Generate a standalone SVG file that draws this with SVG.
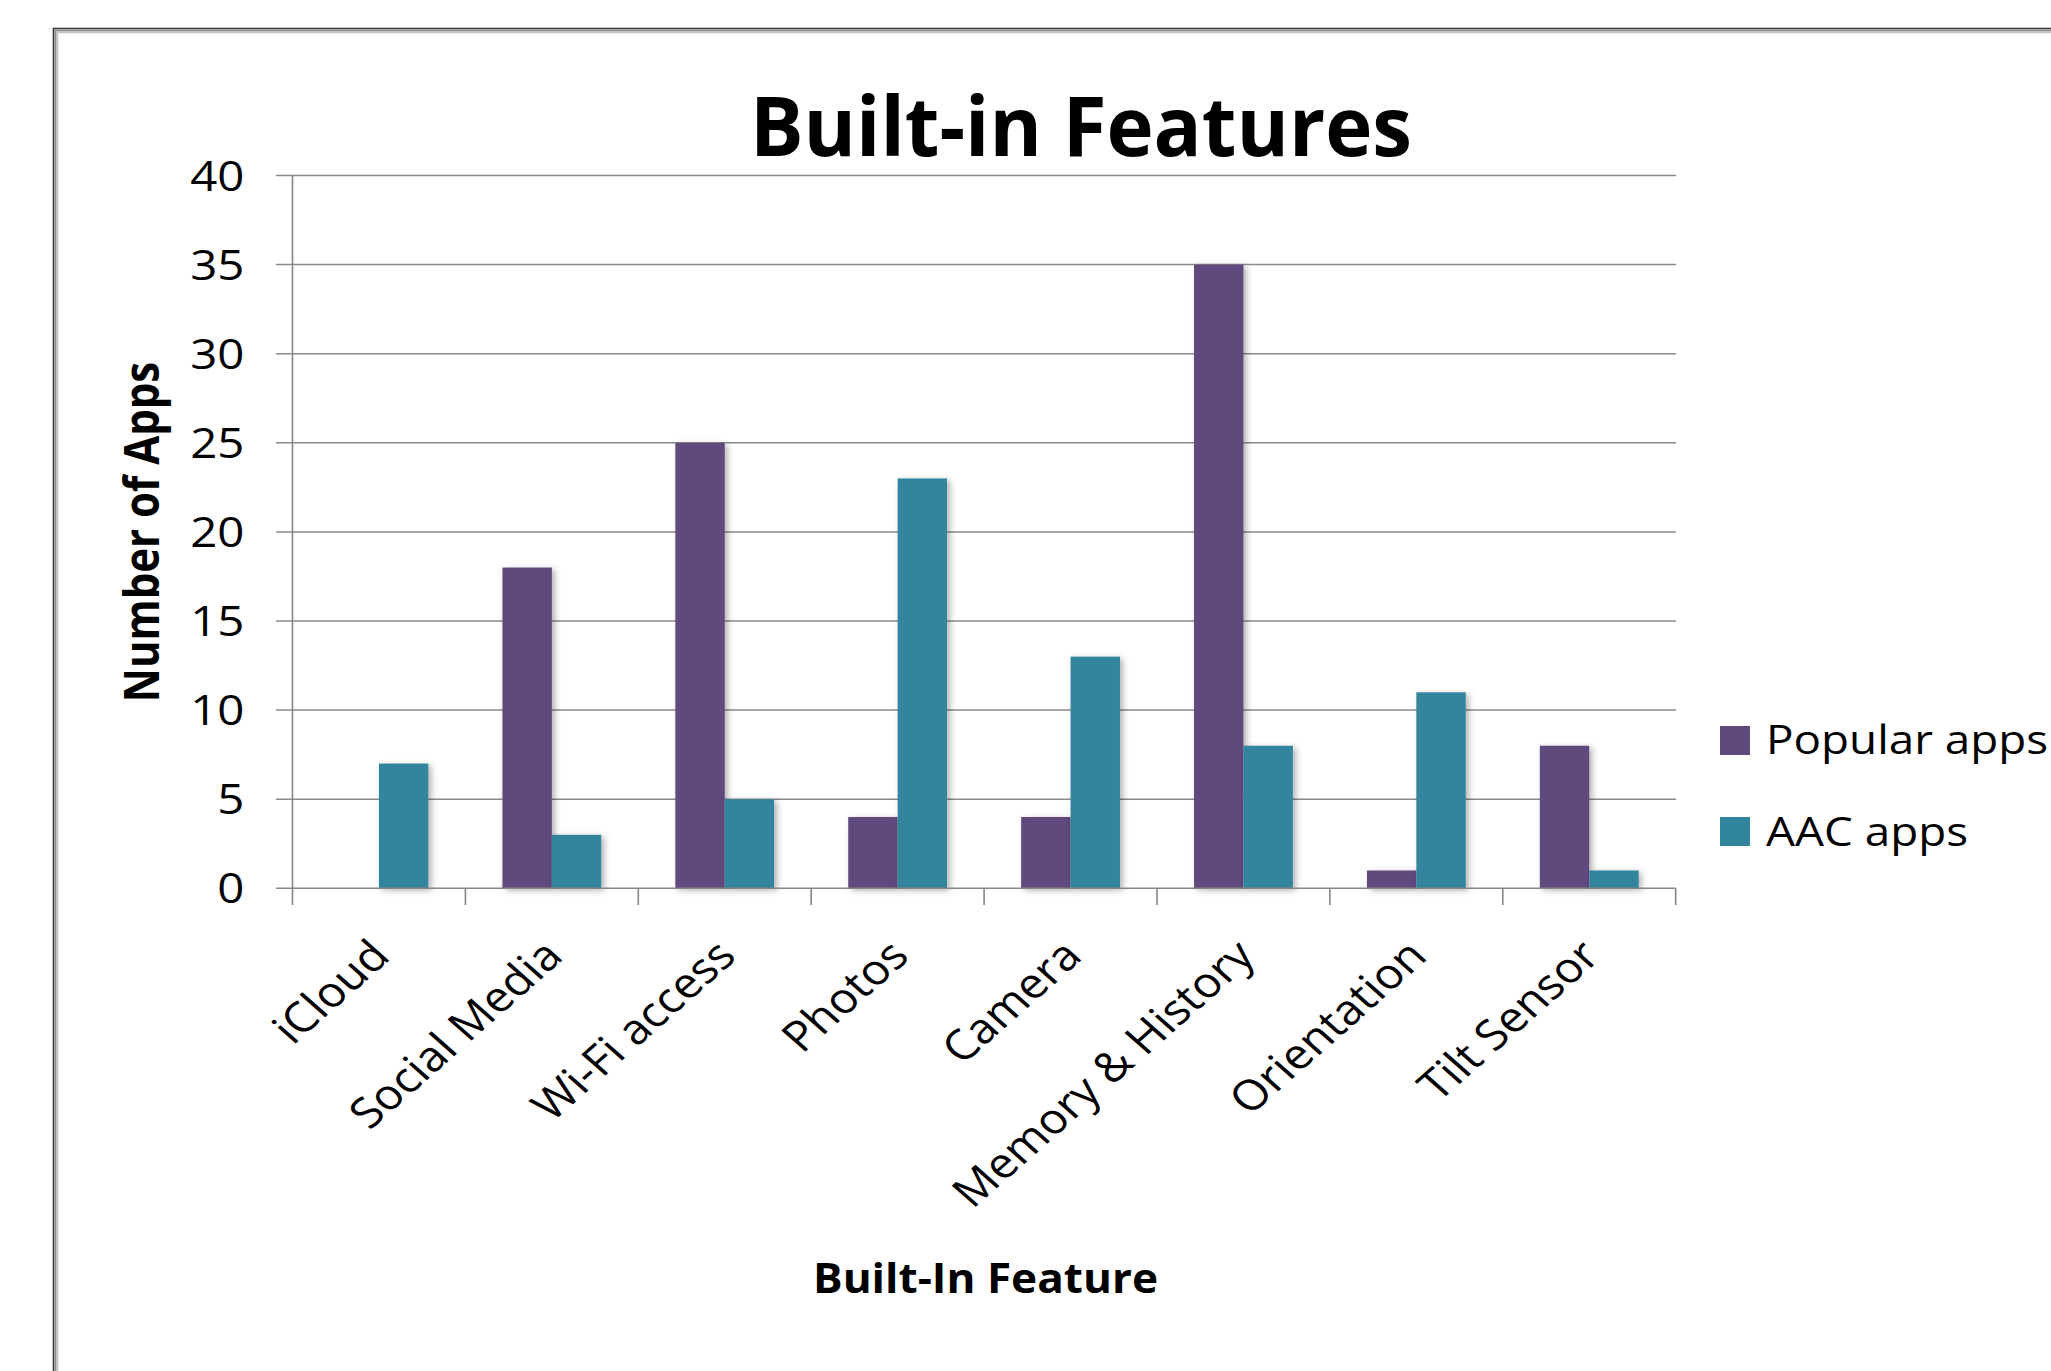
<svg xmlns="http://www.w3.org/2000/svg" width="2051" height="1371" viewBox="0 0 2051 1371">
  <style>
    .lbl { font-family: "Open Sans", "Liberation Sans", sans-serif; fill: #000; }
    .bold { font-weight: 700; }
    .grid { stroke: #8a8a8a; stroke-width: 1.5; fill: none; }
    .axis { stroke: #868686; stroke-width: 1.6; fill: none; }
    .pop { fill: #604a7b; }
    .aac { fill: #31859c; }
  </style>
  <defs>
    <filter id="barShadow" x="-20%" y="-5%" width="150%" height="115%">
      <feDropShadow dx="3" dy="2" stdDeviation="3" flood-color="#000" flood-opacity="0.3"/>
    </filter>
  </defs>

  <rect width="2051" height="1371" fill="#fff"/>

  <!-- chart frame: dark outer edge with a soft grey inner band -->
  <g id="chart-frame" fill="none">
    <rect x="53.5" y="28.5" width="2100" height="1400" stroke="#3a3a3a" stroke-width="1.6"/>
    <rect x="55.5" y="30.5" width="2100" height="1400" stroke="#8c8c8c" stroke-width="2"/>
    <rect x="57.5" y="32.5" width="2100" height="1400" stroke="#c4c4c4" stroke-width="1.5"/>
  </g>

  <g id="title">
    <text class="lbl bold" x="750" y="156" font-size="82" textLength="662" lengthAdjust="spacingAndGlyphs">Built-in Features</text>
  </g>

  <!-- horizontal gridlines (with their left tick stubs) -->
  <g id="gridlines">
    <line class="grid" x1="276" y1="175.5" x2="1676" y2="175.5"/>
    <line class="grid" x1="276" y1="264.6" x2="1676" y2="264.6"/>
    <line class="grid" x1="276" y1="353.7" x2="1676" y2="353.7"/>
    <line class="grid" x1="276" y1="442.8" x2="1676" y2="442.8"/>
    <line class="grid" x1="276" y1="531.9" x2="1676" y2="531.9"/>
    <line class="grid" x1="276" y1="621" x2="1676" y2="621"/>
    <line class="grid" x1="276" y1="710.1" x2="1676" y2="710.1"/>
    <line class="grid" x1="276" y1="799.2" x2="1676" y2="799.2"/>
  </g>

  <g id="y-axis">
    <line class="axis" x1="292.5" y1="175.5" x2="292.5" y2="905"/>
    <g class="lbl" font-size="42" text-anchor="end">
      <text transform="translate(244.5,190.5) scale(1.13,1)">40</text>
      <text transform="translate(244.5,279.6) scale(1.13,1)">35</text>
      <text transform="translate(244.5,368.7) scale(1.13,1)">30</text>
      <text transform="translate(244.5,457.8) scale(1.13,1)">25</text>
      <text transform="translate(244.5,546.9) scale(1.13,1)">20</text>
      <text transform="translate(244.5,636) scale(1.13,1)">15</text>
      <text transform="translate(244.5,725.1) scale(1.13,1)">10</text>
      <text transform="translate(244.5,814.2) scale(1.13,1)">5</text>
      <text transform="translate(244.5,903.3) scale(1.13,1)">0</text>
    </g>
    <text class="lbl bold" font-size="42" text-anchor="middle" transform="translate(159,532) scale(1.13,1) rotate(-90)">Number of Apps</text>
  </g>

  <g id="series-popular" filter="url(#barShadow)">
    <rect class="pop" x="502.45" y="567.54" width="49.4" height="320.76"/>
    <rect class="pop" x="675.35" y="442.8" width="49.4" height="445.5"/>
    <rect class="pop" x="848.25" y="817.02" width="49.4" height="71.28"/>
    <rect class="pop" x="1021.15" y="817.02" width="49.4" height="71.28"/>
    <rect class="pop" x="1194.05" y="264.6" width="49.4" height="623.7"/>
    <rect class="pop" x="1366.95" y="870.48" width="49.4" height="17.82"/>
    <rect class="pop" x="1539.85" y="745.74" width="49.4" height="142.56"/>
  </g>

  <g id="series-aac" filter="url(#barShadow)">
    <rect class="aac" x="378.95" y="763.56" width="49.4" height="124.74"/>
    <rect class="aac" x="551.85" y="834.84" width="49.4" height="53.46"/>
    <rect class="aac" x="724.75" y="799.2" width="49.4" height="89.1"/>
    <rect class="aac" x="897.65" y="478.44" width="49.4" height="409.86"/>
    <rect class="aac" x="1070.55" y="656.64" width="49.4" height="231.66"/>
    <rect class="aac" x="1243.45" y="745.74" width="49.4" height="142.56"/>
    <rect class="aac" x="1416.35" y="692.28" width="49.4" height="196.02"/>
    <rect class="aac" x="1589.25" y="870.48" width="49.4" height="17.82"/>
  </g>

  <g id="x-axis">
    <line class="axis" x1="276" y1="888.3" x2="1676" y2="888.3"/>
    <g class="axis">
      <line x1="465.4" y1="888.3" x2="465.4" y2="905"/>
      <line x1="638.3" y1="888.3" x2="638.3" y2="905"/>
      <line x1="811.2" y1="888.3" x2="811.2" y2="905"/>
      <line x1="984.1" y1="888.3" x2="984.1" y2="905"/>
      <line x1="1157" y1="888.3" x2="1157" y2="905"/>
      <line x1="1329.9" y1="888.3" x2="1329.9" y2="905"/>
      <line x1="1502.8" y1="888.3" x2="1502.8" y2="905"/>
      <line x1="1675.7" y1="888.3" x2="1675.7" y2="905"/>
    </g>
    <g class="lbl" font-size="42" text-anchor="end">
      <text transform="translate(392,958) scale(1.13,1) rotate(-45)">iCloud</text>
      <text transform="translate(565,958) scale(1.13,1) rotate(-45)">Social Media</text>
      <text transform="translate(738,958) scale(1.13,1) rotate(-45)">Wi-Fi access</text>
      <text transform="translate(911,958) scale(1.13,1) rotate(-45)">Photos</text>
      <text transform="translate(1084,958) scale(1.13,1) rotate(-45)">Camera</text>
      <text transform="translate(1257,958) scale(1.13,1) rotate(-45)">Memory &amp; History</text>
      <text transform="translate(1429,958) scale(1.13,1) rotate(-45)">Orientation</text>
      <text transform="translate(1602,958) scale(1.13,1) rotate(-45)">Tilt Sensor</text>
    </g>
    <text class="lbl bold" x="813" y="1293" font-size="42" textLength="345" lengthAdjust="spacingAndGlyphs">Built-In Feature</text>
  </g>

  <g id="legend">
    <rect class="pop" x="1720" y="726" width="30" height="29"/>
    <text class="lbl" x="1766" y="754" font-size="40" textLength="282" lengthAdjust="spacingAndGlyphs">Popular apps</text>
    <rect class="aac" x="1720" y="817" width="30" height="29"/>
    <text class="lbl" x="1766" y="846" font-size="40" textLength="202" lengthAdjust="spacingAndGlyphs">AAC apps</text>
  </g>
</svg>
